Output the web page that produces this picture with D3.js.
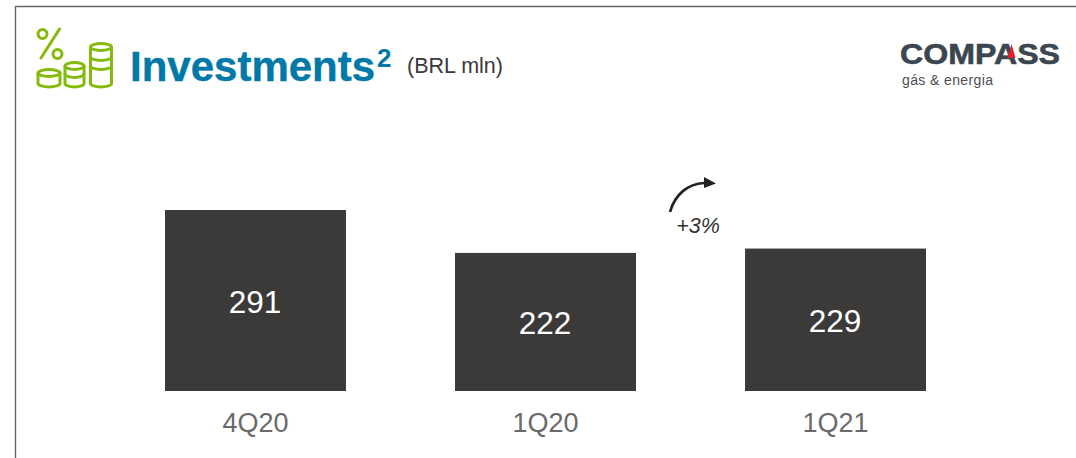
<!DOCTYPE html>
<html><head><meta charset="utf-8">
<script src="https://cdn.jsdelivr.net/npm/d3@7"></script>
<style>html,body{margin:0;padding:0;background:#fff;overflow:hidden}svg{display:block}text{font-family:"Liberation Sans",Arial,sans-serif}</style>
</head><body><div id="c"></div>
<script>
const categories=["4Q20","1Q20","1Q21"];
const values=[291,222,229];
const titleText="Investments";
const titleSup="2";
const unitText="(BRL mln)";
const changeText="+3%";
const logoName="COMPASS";
const logoSub="gás & energia";

const W=1076,H=458;
const svg=d3.select("#c").append("svg").attr("width",W).attr("height",H);
svg.append("rect").attr("width",W).attr("height",H).attr("fill","#fff");
svg.append("path").attr("d","M15.5,458V6.5H1076").attr("fill","none").attr("stroke","#666").attr("stroke-width",1.4);

const x=d3.scaleBand().domain(categories).range([165,926]).paddingInner(0.376).paddingOuter(0);
const y=d3.scaleLinear().domain([0,291]).range([391,210]);

svg.append("g").selectAll("rect").data(values).join("rect")
 .attr("x",(d,i)=>x(categories[i])).attr("y",d=>y(d))
 .attr("width",x.bandwidth()).attr("height",d=>y(0)-y(d)).attr("fill","#3b3a38");
svg.append("g").selectAll("text").data(values).join("text")
 .attr("x",(d,i)=>x(categories[i])+x.bandwidth()/2-0.5).attr("y",d=>(y(d)+y(0))/2+12)
 .attr("text-anchor","middle").attr("font-size",31.5).attr("fill","#fff").text(d=>d);

const ax=svg.append("g").attr("transform","translate(0,391)").call(d3.axisBottom(x).tickSize(0).tickPadding(22));
ax.select(".domain").remove();
ax.selectAll("text").attr("font-size",27).attr("fill","#6a6a6a").attr("font-family",'"Liberation Sans",Arial,sans-serif');

// title
svg.append("text").attr("x",130).attr("y",81).attr("font-size",42).attr("font-weight",700).attr("fill","#0078a8").attr("stroke","#0078a8").attr("stroke-width",0.4).text(titleText);
svg.append("text").attr("x",377).attr("y",67).attr("font-size",26).attr("font-weight",700).attr("fill","#0078a8").text(titleSup);
svg.append("text").attr("x",407).attr("y",73).attr("font-size",21.5).attr("fill","#3a3a3a").text(unitText);

// icon
const ic=svg.append("g").attr("fill","none").attr("stroke","#84bb0a").attr("stroke-width",3).attr("stroke-linecap","round");
ic.append("circle").attr("cx",42.5).attr("cy",34).attr("r",4.5);
ic.append("circle").attr("cx",57.5).attr("cy",54).attr("r",4.5);
ic.append("path").attr("d","M41,58L59.5,29");
function stack(cx,top,bot,levels,rx){
  const ry=3.4;
  ic.append("ellipse").attr("cx",cx).attr("cy",top).attr("rx",rx).attr("ry",ry);
  ic.append("path").attr("d",`M${cx-rx},${top}V${bot}A${rx},${ry} 0 0 0 ${cx+rx},${bot}V${top}`);
  levels.forEach(l=>ic.append("path").attr("d",`M${cx-rx},${l}A${rx},${ry} 0 0 0 ${cx+rx},${l}`));
}
stack(49,73,83.5,[],11);
stack(74.5,66,83.5,[74],9.5);
stack(101,47,83.5,[57,66],10.5);

// change arrow
svg.append("path").attr("d","M670,212C675,194 688,184 704,183").attr("fill","none").attr("stroke","#222").attr("stroke-width",2.7);
svg.append("path").attr("d","M704,177L716,183.5L704,188Z").attr("fill","#222");
svg.append("text").attr("x",698).attr("y",233).attr("text-anchor","middle").attr("font-size",21.5).attr("font-style","italic").attr("fill","#333").text(changeText);

// logo
svg.append("text").attr("x",900).attr("y",64).attr("font-family",'Lato,sans-serif').attr("font-size",29).attr("font-weight",900).attr("fill","#3c4650").attr("stroke","#3c4650").attr("stroke-width",0.6).attr("textLength",160).attr("lengthAdjust","spacingAndGlyphs").text(logoName);
svg.append("path").attr("d","M1011.5,44L1015.5,58H1007.5Z").attr("fill","#e3202c");
svg.append("text").attr("x",902).attr("y",85).attr("font-family",'Lato,sans-serif').attr("font-size",14).attr("fill","#4a4f55").attr("textLength",91).text(logoSub);
</script></body></html>
